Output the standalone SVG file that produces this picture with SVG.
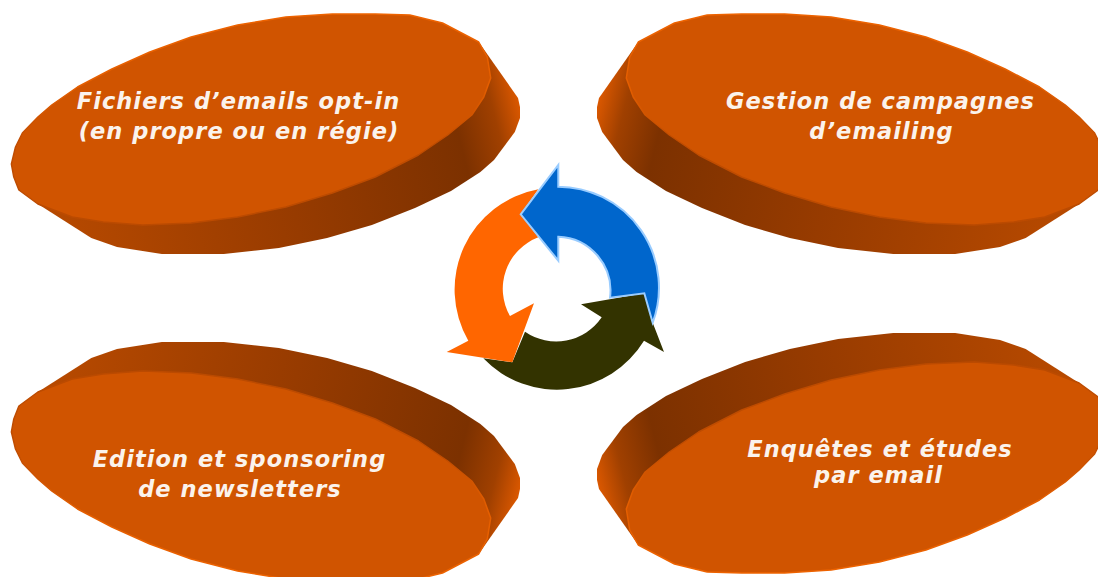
<svg xmlns="http://www.w3.org/2000/svg" xmlns:xlink="http://www.w3.org/1999/xlink" width="1098" height="577" viewBox="0 0 1098 577">
<style>
.lbl{font-family:"DejaVu Sans","Liberation Sans",sans-serif;font-size:22.5px;font-weight:bold;font-style:italic;letter-spacing:1.05px;fill:#fbf3ec;text-anchor:middle}
.face{fill:#d05400;stroke:url(#rim);stroke-width:1.5;stroke-linejoin:round}
.body{fill:url(#side)}
</style>
<defs>
<linearGradient id="side" gradientUnits="userSpaceOnUse" x1="40" y1="215" x2="520" y2="95">
<stop offset="0" stop-color="#b84a00"/>
<stop offset=".5" stop-color="#973b00"/>
<stop offset=".86" stop-color="#7c3100"/>
<stop offset=".94" stop-color="#a04000"/>
<stop offset="1" stop-color="#e05a00"/>
</linearGradient>
<linearGradient id="rim" gradientUnits="userSpaceOnUse" x1="0" y1="14" x2="0" y2="225">
<stop offset="0" stop-color="#ee6300"/>
<stop offset=".35" stop-color="#e45e00"/>
<stop offset=".6" stop-color="#c04c00"/>
<stop offset="1" stop-color="#bb4a00"/>
</linearGradient>
<g id="disc">
<polygon class="body" points="37.9,204 91.3,238 117,247 161.8,254 223.8,254 278.9,248 327.1,238 371.9,225 415,208 451,191 480.4,172 494,160 514.8,132 520,118 520,107 518,98 478.7,42 300,100"/>
<polygon class="face" points="11.4,164 15.5,147 22.4,133 37.9,117 51.7,105 77.5,87 111.9,69 149.8,52 191.1,37 237.6,25 285.8,17 332.3,14 375.3,14 409.8,15 442.5,23 478.7,42 487.3,57 490.7,78 483.8,97 471.8,115 447.7,135 418.4,155 375.3,177 332.3,193 285.8,207 237.6,217 191.1,223 142.9,225 103.3,222 72.3,217 37.9,204 18.9,190 13.8,177"/>
</g>
</defs>
<g id="connectors">
<path id="arrow-dark" fill="#333300" d="M581,304.3 L644.3,293.3 L652.7,322.7 L664,352 L644,340.7 A102,102 0 0 1 483.3,358.3 L512.3,362.3 L525,331.7 A55,55 0 0 0 601.7,317.3 Z"/>
<path id="arrow-orange" fill="#ff6600" d="M538.3,189.3 A102,102 0 0 0 468.3,340.7 L446.7,352 L512.3,362.3 L534,303.3 L510,316 A55,55 0 0 1 538.3,237.3 L520.7,214.3 Z"/>
<path id="arrow-blue" fill="#0066cc" stroke="#99ccff" stroke-width="2" d="M520.7,214.3 L558.3,165 L558.3,186.7 A101,101 0 0 1 652.7,322.7 L644.3,293.3 L610,297.7 A54,54 0 0 0 558.3,236.7 L558.3,260.7 Z"/>
</g>
<g id="node-fichiers">
<use xlink:href="#disc" href="#disc"/>
<text class="lbl" x="238.5" y="109">Fichiers d’emails opt-in</text>
<text class="lbl" x="239" y="139">(en propre ou en régie)</text>
</g>
<g id="node-gestion">
<use xlink:href="#disc" href="#disc" transform="matrix(-1 0 0 1 1117 0)"/>
<text class="lbl" x="880.5" y="109">Gestion de campagnes</text>
<text class="lbl" x="881.5" y="139">d’emailing</text>
</g>
<g id="node-edition">
<use xlink:href="#disc" href="#disc" transform="matrix(1 0 0 -1 0 596)"/>
<text class="lbl" x="239.5" y="467">Edition et sponsoring</text>
<text class="lbl" x="240" y="497">de newsletters</text>
</g>
<g id="node-enquetes">
<use xlink:href="#disc" href="#disc" transform="matrix(-1 0 0 -1 1117 587)"/>
<text class="lbl" x="880" y="457">Enquêtes et études</text>
<text class="lbl" x="878.5" y="483">par email</text>
</g>
</svg>
